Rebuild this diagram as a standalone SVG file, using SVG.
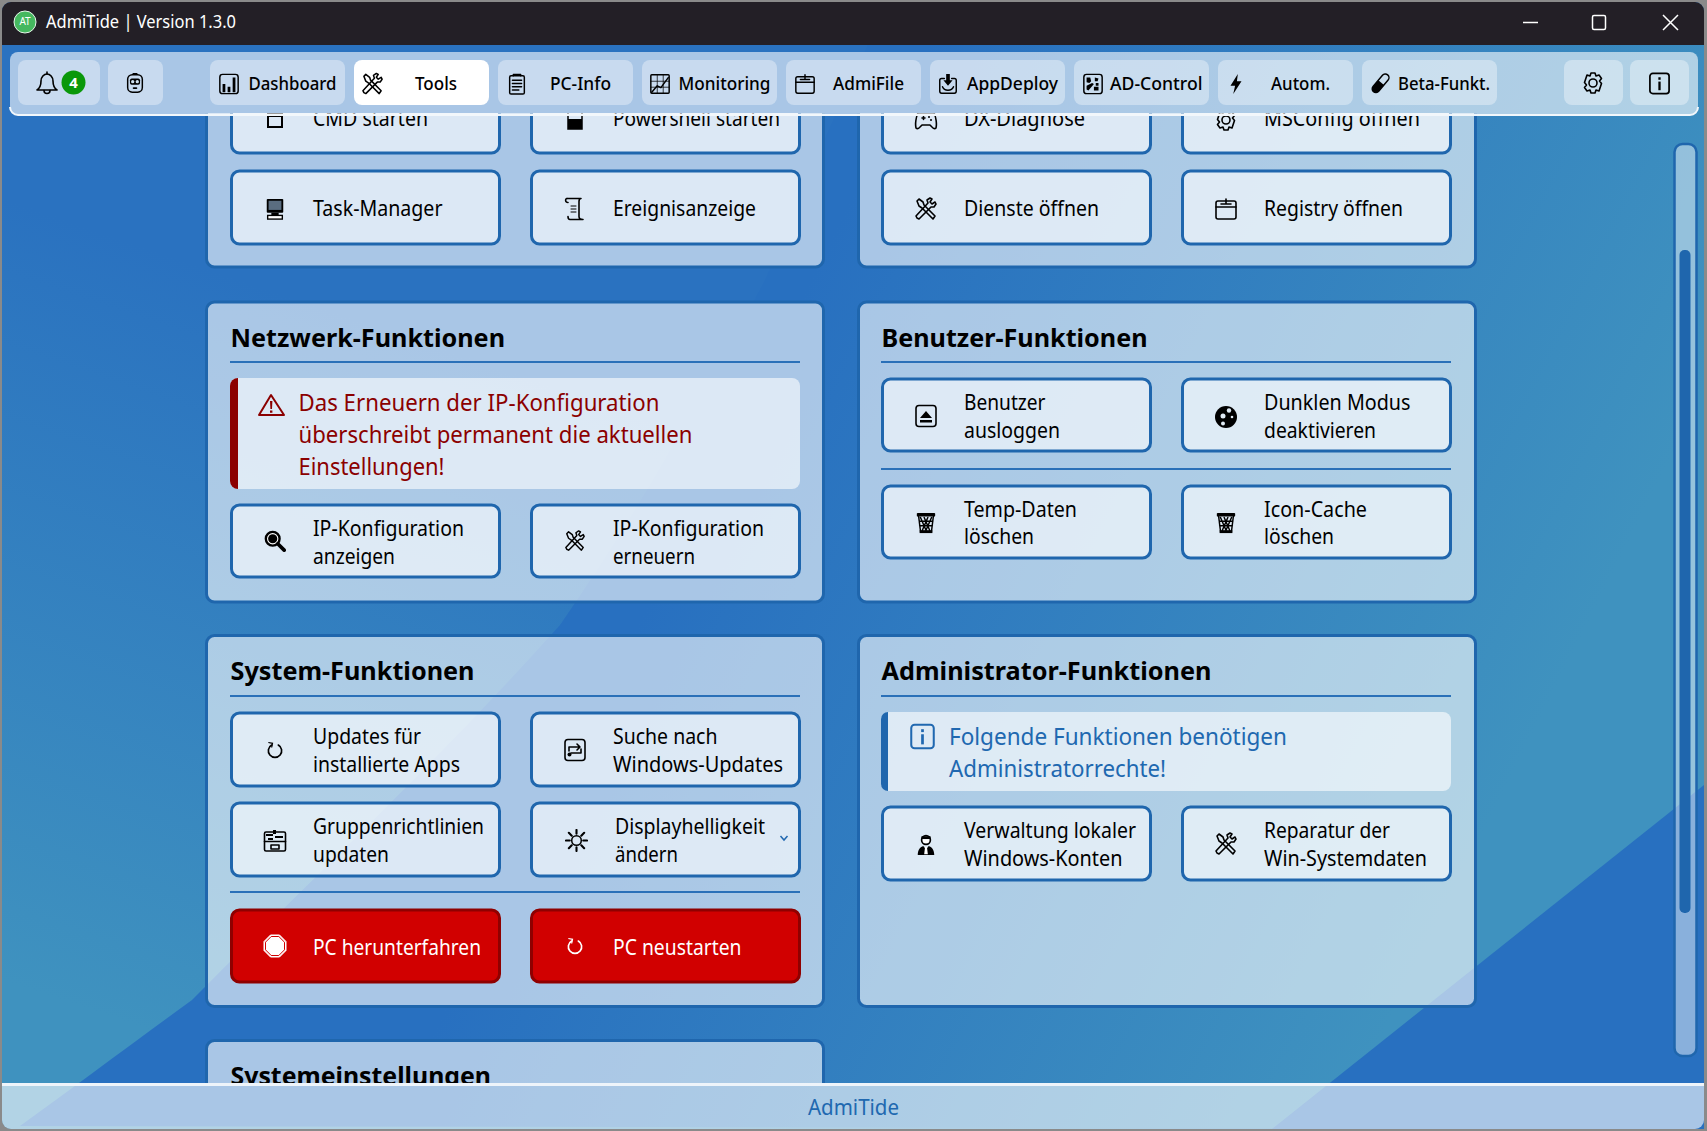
<svg xmlns="http://www.w3.org/2000/svg" xmlns:xlink="http://www.w3.org/1999/xlink" width="1707" height="1131" viewBox="0 0 1707 1131">
<style>
text{font-family:"Noto Sans","Open Sans","Liberation Sans",sans-serif;fill:#000}
.panel{fill:#fff;fill-opacity:.6;stroke:#1f66ad;stroke-width:3}
.btn{fill:#fff;fill-opacity:.6;stroke:#1f66ad;stroke-width:3}
.red{fill:#d10000;stroke:#8f0000;stroke-width:3}
.sep{stroke:#2a70b8;stroke-width:2}
.alertbox{fill:#fff;fill-opacity:.6}
.t{font-size:21px}
.rt{font-size:21px;fill:#fff}
.h{font-size:25px;font-weight:700}
.nb{fill:#fff;fill-opacity:.36}
.nt{font-size:18px;font-weight:500}
.al{font-size:23px;fill:#8b0000}
.inf{font-size:23px;fill:#2068b0}
.s{fill:none;stroke:#000;stroke-width:1.6;stroke-linejoin:round;stroke-linecap:round}
.k{fill:#000;stroke:none}
</style>
<defs>
<linearGradient id="bgA" gradientUnits="userSpaceOnUse" x1="300" y1="300" x2="60" y2="1000"><stop offset="0" stop-color="#2a72c0"/><stop offset="1" stop-color="#3f92bf"/></linearGradient>
<linearGradient id="bgB" gradientUnits="userSpaceOnUse" x1="640" y1="620" x2="1400" y2="1000"><stop offset="0" stop-color="#2870c0"/><stop offset="1" stop-color="#3f92bf"/></linearGradient>
<clipPath id="content"><rect x="0" y="113" width="1707" height="970"/></clipPath>
<symbol id="i-tools" viewBox="0 0 24 24"><g class="s"><path d="M3 21l-1-2L14 6l-1-3 3-2 2 1-2 3 2 2 3-2 1 2-2 3-3 0L5 22z"/><path d="M3 4l2-2 4 3 1 3 11 11-2 3L8 11 5 9z"/></g></symbol>
<symbol id="i-dash" viewBox="0 0 24 24"><rect class="s" x="2" y="1.5" width="20" height="21" rx="3"/><path class="k" d="M5 12h3v9H5zM10.500 15h3v6h-3zM16 5h3v16h-3z"/></symbol>
<symbol id="i-clip" viewBox="0 0 24 24"><g class="s"><rect x="4" y="3" width="16" height="20" rx="1.500"/><path d="M8 3V1.500h8V3M7 8h10M7 11.500h10M7 15h10M7 18.500h7"/></g></symbol>
<symbol id="i-mon" viewBox="0 0 24 24"><g class="s"><rect x="2" y="2" width="20" height="20" rx="1"/><path d="M2 9h20M2 15.500h20M9 2v20M15.500 2v20" stroke-width=".8"/><path d="M3 21l6-7 4 2 8-11"/></g></symbol>
<symbol id="i-file" viewBox="0 0 24 24"><g class="s"><rect x="2" y="4" width="20" height="18" rx="2"/><path d="M2 10h20M7 7h10M12 2v5"/></g></symbol>
<symbol id="i-deploy" viewBox="0 0 24 24"><g class="s"><path d="M8 6H5a2 2 0 0 0-2 2v12a2 2 0 0 0 2 2h14a2 2 0 0 0 2-2V8a2 2 0 0 0-2-2h-3"/><path d="M6 15c2 5 10 5 12 0"/></g><path class="k" d="M10 1h4v7h3l-5 6-5-6h3z"/></symbol>
<symbol id="i-ad" viewBox="0 0 24 24"><rect class="s" x="2" y="1.500" width="20" height="21" rx="3"/><path class="k" d="M5 5h4l1 4-2 2-3-1zM14 5l4 1-1 3-3 0zM5 14l6-3 2 1-6 7-2-1zM15 11l3 0v3h-3zM13 15h5v4h-5z"/></symbol>
<symbol id="i-bolt" viewBox="0 0 24 24"><path class="k" d="M14 1L6 14h5l-2 9 9-14h-5z"/></symbol>
<symbol id="i-beta" viewBox="0 0 24 24"><g transform="rotate(40 12 12)"><rect class="s" x="8" y="-1" width="8" height="24" rx="4"/><path class="k" d="M8 10h8v9a4 4 0 0 1-8 0z"/></g></symbol>
<symbol id="i-gear" viewBox="0 0 24 24"><g class="s"><circle cx="12" cy="12" r="4"/><path d="M10 2h4l1 3 3-1 2.500 3.500-2 2.500 2 2.500L18 20l-3-1-1 3h-4l-1-3-3 1-2.500-3.500 2-2.500-2-2.500L6 4l3 1z"/></g></symbol>
<symbol id="i-info" viewBox="0 0 24 24"><rect x="2" y="1.500" width="20" height="21" rx="3" fill="none" stroke="currentColor" stroke-width="1.800"/><rect x="10.800" y="10" width="2.400" height="9" fill="currentColor"/><rect x="10.800" y="5.500" width="2.400" height="2.600" fill="currentColor"/></symbol>
<symbol id="i-bell" viewBox="0 0 24 24"><g class="s"><path d="M2 19c3-2 4-4 4-9 0-4 3-7 6-7s6 3 6 7c0 5 1 7 4 9z"/><path d="M9 19.500a3 3 0 0 0 6 0M12 1v2"/></g></symbol>
<symbol id="i-robot" viewBox="0 0 24 24"><g class="s"><rect x="4" y="3" width="16" height="19" rx="5"/><path d="M10 2h4"/></g><rect class="k" x="6.500" y="7" width="11" height="7" rx="2"/><circle cx="9.500" cy="10.500" r="1.800" fill="#cfe0ef"/><circle cx="14.500" cy="10.500" r="1.800" fill="#cfe0ef"/><rect class="k" x="9.500" y="16.500" width="5" height="2" rx="1"/></symbol>
<symbol id="i-cmd" viewBox="0 0 24 24"><rect x="5" y="5" width="14" height="14" fill="none" stroke="#000" stroke-width="2"/><rect class="k" x="5" y="5" width="14" height="4"/></symbol>
<symbol id="i-ps" viewBox="0 0 24 24"><rect x="5" y="3" width="14" height="18" fill="none" stroke="#000" stroke-width="1.500"/><rect class="k" x="5" y="11" width="14" height="10"/></symbol>
<symbol id="i-task" viewBox="0 0 24 24"><rect class="k" x="3" y="1" width="18" height="15" rx="1"/><rect x="5" y="3" width="14" height="10" fill="#5a6d80"/><rect class="k" x="8" y="16" width="8" height="3"/><rect x="4" y="19" width="16" height="4" fill="#fff" stroke="#000" stroke-width="1.500"/></symbol>
<symbol id="i-scroll" viewBox="0 0 24 24"><g class="s"><path d="M4 1.500h14c-2 0-2 2-2 3v15c0 2 2 3 4 3H7c-2 0-2-2-2-3"/><path d="M4 1.500c-2 0-2 4 1 4"/><path d="M8 9h5M8 12h5M8 15h5" stroke-width="1"/></g></symbol>
<symbol id="i-pad" viewBox="0 0 24 24"><g class="s"><path d="M4 5h16c2 4 3 11 2 15-2 2-4-1-6-3H8c-2 2-4 5-6 3C1 16 2 9 4 5z"/><path d="M8 10h3M9.500 8.500v3"/></g><circle class="k" cx="15" cy="9" r="1"/><circle class="k" cx="17" cy="12" r="1"/></symbol>
<symbol id="i-eject" viewBox="0 0 24 24"><rect class="s" x="2" y="1.500" width="20" height="21" rx="3"/><path class="k" d="M12 7l6 7H6zM6 16h12v2.500H6z"/></symbol>
<symbol id="i-moon" viewBox="0 0 24 24"><circle class="k" cx="12" cy="12" r="11"/><g fill="#e0ebf5"><circle cx="15" cy="5.500" r="2.200"/><circle cx="9" cy="11" r="2.500"/><circle cx="18" cy="12" r="1.300"/><circle cx="9" cy="18.500" r="2"/></g></symbol>
<symbol id="i-trash" viewBox="0 0 24 24"><rect class="k" x="2" y="1" width="20" height="4" rx="1"/><path class="s" d="M4 5l2 16h12l2-16M6 6l6 14M10 6l6 14M14 6l-6 14M18 6l-6 14M4.500 10h15M5 15h14" stroke-width="1.200"/><rect class="k" x="5" y="20" width="14" height="3"/></symbol>
<symbol id="i-search" viewBox="0 0 24 24"><circle cx="9.500" cy="9.500" r="7.500" fill="#fff" stroke="#000" stroke-width="2.600"/><circle class="k" cx="9.500" cy="9.500" r="5"/><path d="M15 15l7 7" stroke="#000" stroke-width="4" stroke-linecap="round"/></symbol>
<symbol id="i-refresh" viewBox="0 0 24 24"><path d="M8 6a8 8 0 1 0 8 0" fill="none" stroke="currentColor" stroke-width="2" stroke-linecap="round"/><path d="M4 3l5 1-1 5" fill="none" stroke="currentColor" stroke-width="1.500"/></symbol>
<symbol id="i-sync" viewBox="0 0 24 24"><rect class="s" x="2" y="1.500" width="20" height="21" rx="3"/><path class="s" d="M6 13V9h11M14 6l3 3-3 3M18 11v4H8"/><circle class="k" cx="6.500" cy="16.500" r="2"/></symbol>
<symbol id="i-group" viewBox="0 0 24 24"><g class="s"><rect x="1.500" y="3" width="21" height="19" rx="1.500"/><path d="M1.500 12.500h21M8 16h8v4H8z"/></g><path class="k" d="M3 5h7v2H3zM10 1h3v4h-3zM12 7h8v2h-8zM5 9h5v2H5z"/></symbol>
<symbol id="i-sun" viewBox="0 0 24 24"><circle class="s" cx="12" cy="12" r="5"/><path d="M12 1v4M12 19v4M1 12h4M19 12h4M4 4l3 3M17 17l3 3M20 4l-3 3M7 17l-3 3" stroke="#000" stroke-width="2.200" stroke-linecap="round"/></symbol>
<symbol id="i-stop" viewBox="0 0 24 24"><path d="M7.500 1h9L23 7.500v9L16.500 23h-9L1 16.500v-9z" fill="#fff" stroke="#fff"/><path d="M8.200 2.500h7.600l5.700 5.700v7.600l-5.700 5.700H8.200l-5.700-5.700V8.200z" fill="#fff" stroke="#d10000" stroke-width="1"/></symbol>
<symbol id="i-user" viewBox="0 0 24 24"><circle cx="12" cy="6.500" r="4.800" fill="#fff" stroke="#000" stroke-width="1.800"/><path class="k" d="M7 2.500h10v3H7z"/><path class="k" d="M3 23c0-6 3-9 6-10l3 4 3-4c3 1 6 4 6 10z"/><path d="M11 14h2l1 8h-4z" fill="#fff"/></symbol>
</defs>

<rect width="1707" height="1131" fill="#8a8a8a"/>
<g id="window-bg">
<rect x="2" y="2" width="1702" height="1127" rx="9" fill="url(#bgA)"/>
<path d="M870 40C840 100 790 220 765 280C700 400 640 510 560 625C440 760 300 890 192 1000C130 1045 70 1090 20 1126L1704 1129L1704 40Z" fill="url(#bgB)"/>
<path d="M1704 785L1272 1129L1704 1129Z" fill="#2870c0"/>
</g>

<g id="content-area" clip-path="url(#content)">
<g id="panel-werkzeuge-links">
<rect class="panel" x="206.500" y="60" width="617" height="207" rx="8"/>
<g id="btn-cmd"><rect class="btn" x="231.500" y="80" width="268" height="73" rx="8"/><use href="#i-cmd" x="263" y="108" width="24" height="24"/><text class="t" x="313" y="126" textLength="115" lengthAdjust="spacingAndGlyphs">CMD starten</text></g>
<g id="btn-powershell"><rect class="btn" x="531.500" y="80" width="268" height="73" rx="8"/><use href="#i-ps" x="563" y="108" width="24" height="24"/><text class="t" x="613" y="126" textLength="167" lengthAdjust="spacingAndGlyphs">Powershell starten</text></g>
<g id="btn-taskmgr"><rect class="btn" x="231.500" y="171" width="268" height="73" rx="8"/><use href="#i-task" x="264" y="197" width="22" height="24"/><text class="t" x="313" y="216" textLength="129.500" lengthAdjust="spacingAndGlyphs">Task-Manager</text></g>
<g id="btn-events"><rect class="btn" x="531.500" y="171" width="268" height="73" rx="8"/><use href="#i-scroll" x="563" y="197" width="24" height="24"/><text class="t" x="613" y="216" textLength="143" lengthAdjust="spacingAndGlyphs">Ereignisanzeige</text></g>
</g>
<g id="panel-werkzeuge-rechts">
<rect class="panel" x="858.500" y="60" width="617" height="207" rx="8"/>
<g id="btn-dx"><rect class="btn" x="882.500" y="80" width="268" height="73" rx="8"/><use href="#i-pad" x="914" y="108" width="24" height="24"/><text class="t" x="964" y="126" textLength="121" lengthAdjust="spacingAndGlyphs">DX-Diagnose</text></g>
<g id="btn-msconfig"><rect class="btn" x="1182.500" y="80" width="268" height="73" rx="8"/><use href="#i-gear" x="1214" y="108" width="24" height="24"/><text class="t" x="1264" y="126" textLength="156" lengthAdjust="spacingAndGlyphs">MSConfig öffnen</text></g>
<g id="btn-dienste"><rect class="btn" x="882.500" y="171" width="268" height="73" rx="8"/><use href="#i-tools" x="914" y="197" width="24" height="24"/><text class="t" x="964" y="216" textLength="135" lengthAdjust="spacingAndGlyphs">Dienste öffnen</text></g>
<g id="btn-registry"><rect class="btn" x="1182.500" y="171" width="268" height="73" rx="8"/><use href="#i-file" x="1214" y="197" width="24" height="24"/><text class="t" x="1264" y="216" textLength="139" lengthAdjust="spacingAndGlyphs">Registry öffnen</text></g>
</g>

<g id="panel-netzwerk">
<rect class="panel" x="206.500" y="302" width="617" height="300" rx="8"/>
<text class="h" x="230.500" y="347" textLength="274.500" lengthAdjust="spacingAndGlyphs">Netzwerk-Funktionen</text>
<line class="sep" x1="230" y1="362" x2="800" y2="362"/>
<g id="alert-ip"><rect class="alertbox" x="230" y="378" width="570" height="111" rx="8"/><path d="M238 378v111a8 8 0 0 1-8-8V386a8 8 0 0 1 8-8z" fill="#8b0000"/>
<path d="M271 395l-12 20h25z" fill="none" stroke="#8b0000" stroke-width="2" stroke-linejoin="round"/><path d="M270 401h2.400l-.4 8h-1.600zM270 410.500h2.400v2.300H270z" fill="#8b0000"/>
<text class="al" x="298.500" y="411" textLength="361" lengthAdjust="spacingAndGlyphs">Das Erneuern der IP-Konfiguration</text>
<text class="al" x="298.500" y="443" textLength="394" lengthAdjust="spacingAndGlyphs">überschreibt permanent die aktuellen</text>
<text class="al" x="298.500" y="474.500" textLength="146" lengthAdjust="spacingAndGlyphs">Einstellungen!</text></g>
<g id="btn-ip-show"><rect class="btn" x="231.500" y="505" width="268" height="72" rx="8"/><use href="#i-search" x="264" y="530" width="22" height="22"/><text class="t" x="313" y="536" textLength="151" lengthAdjust="spacingAndGlyphs">IP-Konfiguration</text><text class="t" x="313" y="564" textLength="82" lengthAdjust="spacingAndGlyphs">anzeigen</text></g>
<g id="btn-ip-renew"><rect class="btn" x="531.500" y="505" width="268" height="72" rx="8"/><use href="#i-tools" x="563" y="530" width="24" height="22"/><text class="t" x="613" y="536" textLength="151" lengthAdjust="spacingAndGlyphs">IP-Konfiguration</text><text class="t" x="613" y="564" textLength="82" lengthAdjust="spacingAndGlyphs">erneuern</text></g>
</g>

<g id="panel-benutzer">
<rect class="panel" x="858.500" y="302" width="617" height="300" rx="8"/>
<text class="h" x="881.500" y="347" textLength="266" lengthAdjust="spacingAndGlyphs">Benutzer-Funktionen</text>
<line class="sep" x1="881" y1="362" x2="1451" y2="362"/>
<g id="btn-logout"><rect class="btn" x="882.500" y="379" width="268" height="72" rx="8"/><use href="#i-eject" x="914" y="404" width="24" height="24"/><text class="t" x="964" y="410" textLength="81.500" lengthAdjust="spacingAndGlyphs">Benutzer</text><text class="t" x="964" y="438" textLength="96" lengthAdjust="spacingAndGlyphs">ausloggen</text></g>
<g id="btn-dark"><rect class="btn" x="1182.500" y="379" width="268" height="72" rx="8"/><use href="#i-moon" x="1214" y="405" width="24" height="24"/><text class="t" x="1264" y="410" textLength="146.500" lengthAdjust="spacingAndGlyphs">Dunklen Modus</text><text class="t" x="1264" y="438" textLength="112" lengthAdjust="spacingAndGlyphs">deaktivieren</text></g>
<line class="sep" x1="881" y1="469" x2="1451" y2="469"/>
<g id="btn-temp"><rect class="btn" x="882.500" y="486" width="268" height="72" rx="8"/><use href="#i-trash" x="915" y="512" width="22" height="22"/><text class="t" x="964" y="517" textLength="113" lengthAdjust="spacingAndGlyphs">Temp-Daten</text><text class="t" x="964" y="544" textLength="70" lengthAdjust="spacingAndGlyphs">löschen</text></g>
<g id="btn-icon"><rect class="btn" x="1182.500" y="486" width="268" height="72" rx="8"/><use href="#i-trash" x="1215" y="512" width="22" height="22"/><text class="t" x="1264" y="517" textLength="103" lengthAdjust="spacingAndGlyphs">Icon-Cache</text><text class="t" x="1264" y="544" textLength="70" lengthAdjust="spacingAndGlyphs">löschen</text></g>
</g>

<g id="panel-system">
<rect class="panel" x="206.500" y="635.500" width="617" height="371" rx="8"/>
<text class="h" x="230.500" y="680" textLength="244" lengthAdjust="spacingAndGlyphs">System-Funktionen</text>
<line class="sep" x1="230" y1="696" x2="800" y2="696"/>
<g id="btn-apps"><rect class="btn" x="231.500" y="713" width="268" height="73" rx="8"/><use href="#i-refresh" x="265" y="739" width="20" height="22" color="#000"/><text class="t" x="313" y="744" textLength="108" lengthAdjust="spacingAndGlyphs">Updates für</text><text class="t" x="313" y="772" textLength="147" lengthAdjust="spacingAndGlyphs">installierte Apps</text></g>
<g id="btn-winupd"><rect class="btn" x="531.500" y="713" width="268" height="73" rx="8"/><use href="#i-sync" x="563" y="738" width="24" height="24"/><text class="t" x="613" y="744" textLength="104.500" lengthAdjust="spacingAndGlyphs">Suche nach</text><text class="t" x="613" y="772" textLength="170" lengthAdjust="spacingAndGlyphs">Windows-Updates</text></g>
<g id="btn-gpo"><rect class="btn" x="231.500" y="803" width="268" height="73" rx="8"/><use href="#i-group" x="263" y="829" width="24" height="24"/><text class="t" x="313" y="834" textLength="171" lengthAdjust="spacingAndGlyphs">Gruppenrichtlinien</text><text class="t" x="313" y="862" textLength="76" lengthAdjust="spacingAndGlyphs">updaten</text></g>
<g id="btn-bright"><rect class="btn" x="531.500" y="803" width="268" height="73" rx="8"/><use href="#i-sun" x="565" y="829" width="23" height="23"/><text class="t" x="615" y="834" textLength="150" lengthAdjust="spacingAndGlyphs">Displayhelligkeit</text><text class="t" x="615" y="862" textLength="63" lengthAdjust="spacingAndGlyphs">ändern</text><path d="M780.500 836l3.500 4 3.500-4" fill="none" stroke="#2068b0" stroke-width="1.500"/></g>
<line class="sep" x1="230" y1="892" x2="800" y2="892"/>
<g id="btn-shutdown"><rect class="red" x="231.500" y="910" width="268" height="72" rx="8"/><use href="#i-stop" x="263" y="934" width="24" height="24"/><text class="rt" x="313" y="955" textLength="168" lengthAdjust="spacingAndGlyphs">PC herunterfahren</text></g>
<g id="btn-restart"><rect class="red" x="531.500" y="910" width="268" height="72" rx="8"/><use href="#i-refresh" x="565" y="935" width="20" height="22" color="#fff"/><text class="rt" x="613" y="955" textLength="128.500" lengthAdjust="spacingAndGlyphs">PC neustarten</text></g>
</g>

<g id="panel-admin">
<rect class="panel" x="858.500" y="635.500" width="617" height="371" rx="8"/>
<text class="h" x="881.500" y="680" textLength="330" lengthAdjust="spacingAndGlyphs">Administrator-Funktionen</text>
<line class="sep" x1="881" y1="696" x2="1451" y2="696"/>
<g id="alert-admin"><rect class="alertbox" x="881" y="712" width="570" height="79" rx="8"/><path d="M888 712v79a7 7 0 0 1-7-7V719a7 7 0 0 1 7-7z" fill="#1f66ad"/>
<use href="#i-info" x="909" y="723" width="27" height="27" color="#2068b0"/>
<text class="inf" x="949" y="745" textLength="338" lengthAdjust="spacingAndGlyphs">Folgende Funktionen benötigen</text>
<text class="inf" x="949" y="777" textLength="217" lengthAdjust="spacingAndGlyphs">Administratorrechte!</text></g>
<g id="btn-accounts"><rect class="btn" x="882.500" y="807" width="268" height="73" rx="8"/><use href="#i-user" x="915" y="833" width="22" height="24"/><text class="t" x="964" y="838" textLength="172" lengthAdjust="spacingAndGlyphs">Verwaltung lokaler</text><text class="t" x="964" y="866" textLength="158.500" lengthAdjust="spacingAndGlyphs">Windows-Konten</text></g>
<g id="btn-repair"><rect class="btn" x="1182.500" y="807" width="268" height="73" rx="8"/><use href="#i-tools" x="1214" y="832" width="24" height="24"/><text class="t" x="1264" y="838" textLength="126" lengthAdjust="spacingAndGlyphs">Reparatur der</text><text class="t" x="1264" y="866" textLength="163" lengthAdjust="spacingAndGlyphs">Win-Systemdaten</text></g>
</g>

<g id="panel-einstellungen">
<rect class="panel" x="206.500" y="1040.500" width="617" height="120" rx="8"/>
<text class="h" x="230.500" y="1085" textLength="260.500" lengthAdjust="spacingAndGlyphs">Systemeinstellungen</text>
</g>
</g>

<g id="scrollbar">
<rect x="1674.500" y="144" width="22" height="912" rx="8" fill="#fff" fill-opacity=".45" stroke="#1f66ad" stroke-width="2.500"/>
<rect x="1679.500" y="250" width="11" height="663" rx="5" fill="#1f66ad"/>
</g>

<g id="titlebar">
<path d="M2 45V11a9 9 0 0 1 9-9H1695a9 9 0 0 1 9 9V45Z" fill="#231f26"/>
<circle cx="25" cy="22" r="11" fill="#45b85f" stroke="#e6f5ea" stroke-width="1"/>
<text x="25" y="25" font-size="10" text-anchor="middle" style="fill:#fff">AT</text>
<text x="46" y="28" font-size="18" textLength="190" lengthAdjust="spacingAndGlyphs" style="fill:#fff">AdmiTide | Version 1.3.0</text>
<g fill="none" stroke="#fff" stroke-width="1.500"><path d="M1523 22.500h15"/><rect x="1592.500" y="15.500" width="13" height="14" rx="1.500"/><path d="M1663 15l15 15M1678 15l-15 15"/></g>
</g>

<g id="toolbar">
<rect x="10" y="52" width="1688" height="63" rx="8" fill="#fff" fill-opacity=".6"/>
<path d="M10 107a8 8 0 0 0 8 8H1690a8 8 0 0 0 8-8" fill="none" stroke="#f2f7fb" stroke-width="2"/>
<g id="tb-bell"><rect class="nb" x="18" y="60" width="82" height="45" rx="8"/><use href="#i-bell" x="35" y="71" width="24" height="24"/><circle cx="73.500" cy="82.500" r="12" fill="#0a980a"/><text x="73.500" y="88" font-size="15" font-weight="700" text-anchor="middle" style="fill:#fff">4</text></g>
<g id="tb-robot"><rect class="nb" x="108" y="60" width="55" height="45" rx="8"/><use href="#i-robot" x="124" y="72" width="22" height="22"/></g>
<g id="tb-dashboard"><rect class="nb" x="210" y="60" width="135" height="45" rx="8"/><use href="#i-dash" x="218" y="73" width="22" height="22"/><text class="nt" x="248.500" y="90" textLength="88" lengthAdjust="spacingAndGlyphs">Dashboard</text></g>
<g id="tb-tools"><rect x="354" y="60" width="135" height="45" rx="8" fill="#fff"/><use href="#i-tools" x="361" y="72" width="23" height="24"/><text class="nt" x="415" y="90" textLength="42" lengthAdjust="spacingAndGlyphs">Tools</text></g>
<g id="tb-pcinfo"><rect class="nb" x="498" y="60" width="135" height="45" rx="8"/><use href="#i-clip" x="506" y="72" width="22" height="24"/><text class="nt" x="550" y="90" textLength="61" lengthAdjust="spacingAndGlyphs">PC-Info</text></g>
<g id="tb-monitoring"><rect class="nb" x="642" y="60" width="135" height="45" rx="8"/><use href="#i-mon" x="649" y="73" width="22" height="22"/><text class="nt" x="678.500" y="90" textLength="92" lengthAdjust="spacingAndGlyphs">Monitoring</text></g>
<g id="tb-admifile"><rect class="nb" x="786" y="60" width="135" height="45" rx="8"/><use href="#i-file" x="794" y="72" width="22" height="24"/><text class="nt" x="833" y="90" textLength="71" lengthAdjust="spacingAndGlyphs">AdmiFile</text></g>
<g id="tb-appdeploy"><rect class="nb" x="930" y="60" width="135" height="45" rx="8"/><use href="#i-deploy" x="937" y="72" width="22" height="24"/><text class="nt" x="967" y="90" textLength="91" lengthAdjust="spacingAndGlyphs">AppDeploy</text></g>
<g id="tb-adcontrol"><rect class="nb" x="1074" y="60" width="135" height="45" rx="8"/><use href="#i-ad" x="1082" y="73" width="22" height="22"/><text class="nt" x="1110" y="90" textLength="92.500" lengthAdjust="spacingAndGlyphs">AD-Control</text></g>
<g id="tb-autom"><rect class="nb" x="1218" y="60" width="135" height="45" rx="8"/><use href="#i-bolt" x="1225" y="72" width="22" height="24"/><text class="nt" x="1271" y="90" textLength="59" lengthAdjust="spacingAndGlyphs">Autom.</text></g>
<g id="tb-beta"><rect class="nb" x="1362" y="60" width="135" height="45" rx="8"/><use href="#i-beta" x="1369" y="72" width="22" height="24"/><text class="nt" x="1398" y="90" textLength="92" lengthAdjust="spacingAndGlyphs">Beta-Funkt.</text></g>
<g id="tb-settings"><rect class="nb" x="1564" y="60" width="59" height="45" rx="8"/><use href="#i-gear" x="1581" y="71" width="24" height="24"/></g>
<g id="tb-info"><rect class="nb" x="1630" y="60" width="59" height="45" rx="8"/><use href="#i-info" x="1648" y="72" width="23" height="23" color="#000"/></g>
</g>

<g id="footer">
<path d="M2 1083H1704V1120a9 9 0 0 1-9 9H11a9 9 0 0 1-9-9Z" fill="#fff" fill-opacity=".6"/>
<rect x="2" y="1083" width="1702" height="3" fill="#eef4fa"/>
<text x="853.500" y="1115" font-size="22" text-anchor="middle" textLength="91" lengthAdjust="spacingAndGlyphs" style="fill:#2068b0">AdmiTide</text>
</g>
</svg>
